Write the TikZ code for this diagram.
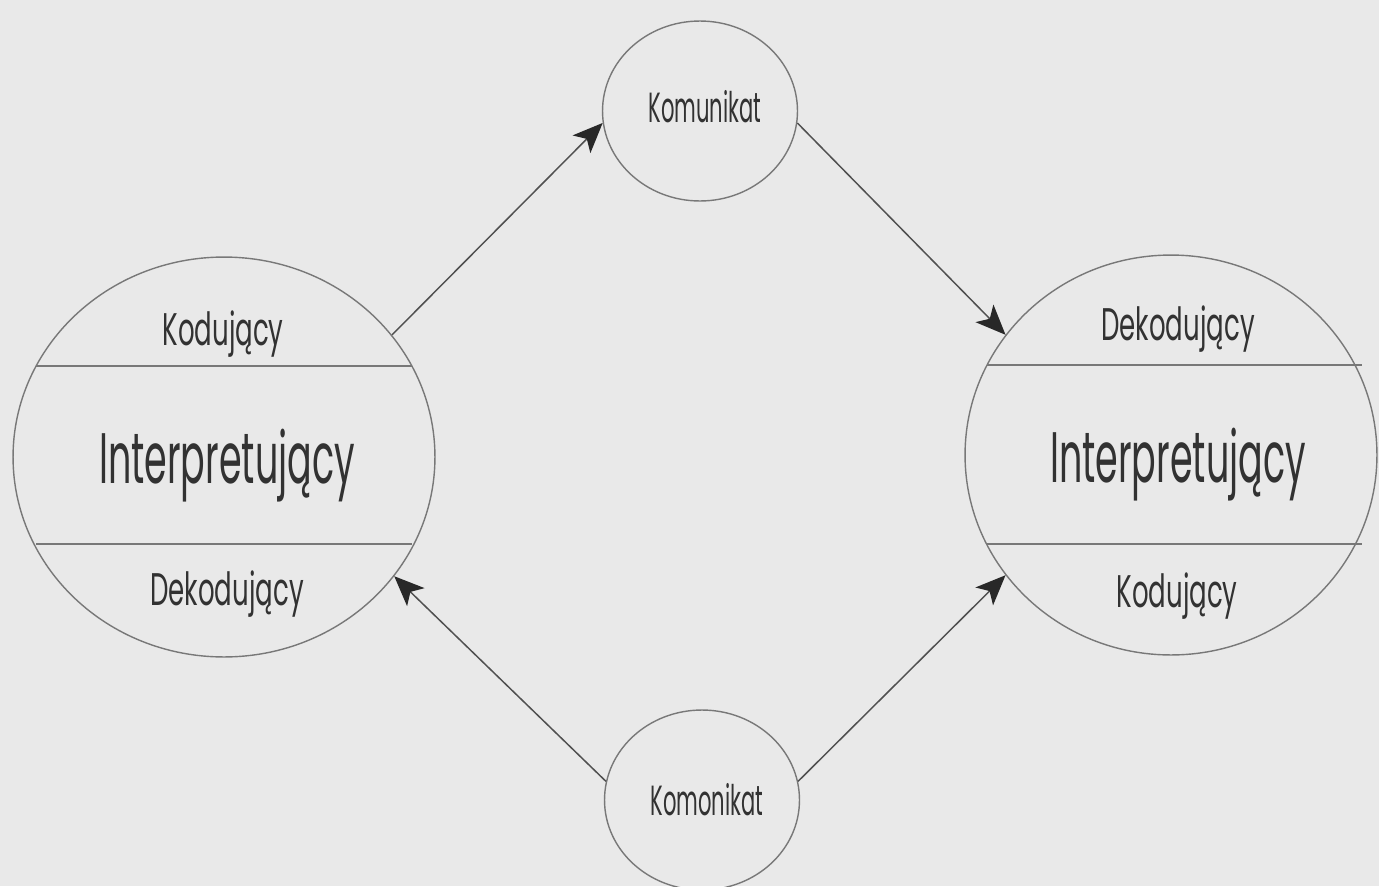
\documentclass[tikz,border=0pt]{standalone}
\usepackage{fontspec}
\setmainfont{Poppins}
\newfontfamily\smallfont{Poppins}[FakeStretch=0.57]
\newfontfamily\tinyfont{Poppins}[FakeStretch=0.50]
\newfontfamily\bigfont{Poppins}[FakeStretch=0.51]
\usetikzlibrary{shapes.geometric,arrows.meta}
\definecolor{paper}{RGB}{233,233,233}
\definecolor{ink}{RGB}{50,50,50}
\definecolor{rim}{RGB}{120,120,120}
\definecolor{wire}{RGB}{80,80,80}
\definecolor{tip}{RGB}{40,40,40}

\begin{document}
\begin{tikzpicture}[x=0.02cm,y=-0.02cm,
    >={Stealth[length=0.6cm,width=0.5cm,inset=0.15cm,color=tip]},
    big/.style={ellipse,draw=rim,line width=0.8pt,minimum height=8cm,inner sep=0pt},
    msg/.style={ellipse,draw=rim,line width=0.8pt,minimum width=3.9cm,minimum height=3.6cm,inner sep=0pt},
    word/.style={text=ink,anchor=base,inner sep=0pt,font=\smallfont\fontsize{26pt}{30pt}\selectfont},
    note/.style={text=ink,anchor=base,inner sep=0pt,font=\tinyfont\fontsize{24pt}{28pt}\selectfont},
    role/.style={text=ink,anchor=base,inner sep=0pt,font=\bigfont\fontsize{40.7pt}{44pt}\selectfont},
    band/.style={draw=rim,line width=1.4pt},
    link/.style={->,draw=wire,line width=0.85pt}]
      \useasboundingbox[fill=paper] (0,0) rectangle (1379,886);
      \clip (0,0) rectangle (1379,886);
      \node[big,minimum width=8.44cm] (left) at (224,457) {};
      \node[big,minimum width=8.24cm] (right) at (1171,455) {};
      \node[msg] (top) at (700,111) {};
      \node[msg] (bottom) at (702,800) {};
      \draw[band] (36,366) -- (412,366); % left, upper band
      \draw[band] (36,544) -- (412,544); % left, lower band
      \draw[band] (987,365) -- (1362,365); % right, upper band
      \draw[band] (987,544) -- (1362,544); % right, lower band
      \node[word] (lcod) at (223,345) {Kodujący};
      \node[role] (lint) at (227,483) {Interpretujący};
      \node[word] (ldec) at (227,605) {Dekodujący};
      \node[word] (rdec) at (1178,340) {Dekodujący};
      \node[role] (rint) at (1178,482) {Interpretujący};
      \node[word] (rcod) at (1177,607) {Kodujący};
      \node[note] (tmsg) at (705,122) {Komunikat};
      \node[note] (bmsg) at (707,815) {Komonikat};
      \draw[link] (left.36) -- (top.187); % left -> top
      \draw[link] (top.353) -- (right.144); % top -> right
      \draw[link] (bottom.169) -- (left.325); % bottom -> left
      \draw[link] (bottom.11) -- (right.216); % bottom -> right
\end{tikzpicture}
\end{document}
